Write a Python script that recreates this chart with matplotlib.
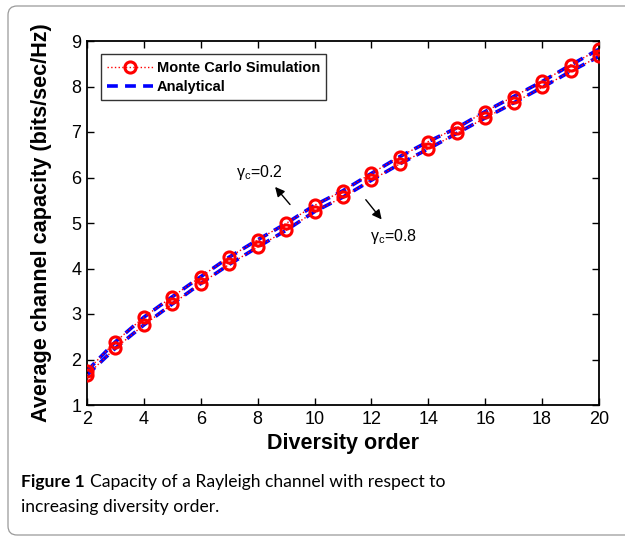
import matplotlib
matplotlib.use("Agg")
import matplotlib.pyplot as plt
from matplotlib.patches import FancyBboxPatch

diversity = [2, 3, 4, 5, 6, 7, 8, 9, 10, 11, 12, 13, 14, 15, 16, 17, 18, 19, 20]
cap_gc02 = [1.75, 2.39, 2.93, 3.38, 3.82, 4.25, 4.63, 4.99, 5.39, 5.71, 6.09, 6.46, 6.79, 7.09, 7.45, 7.78, 8.11, 8.47, 8.82]
cap_gc08 = [1.66, 2.25, 2.76, 3.22, 3.67, 4.09, 4.47, 4.84, 5.25, 5.57, 5.94, 6.30, 6.63, 6.97, 7.31, 7.64, 7.98, 8.33, 8.66]

xticks = [2, 4, 6, 8, 10, 12, 14, 16, 18, 20]
yticks = [1, 2, 3, 4, 5, 6, 7, 8, 9]

plt.rcParams['font.family'] = ['Liberation Sans', 'DejaVu Sans']
plt.rcParams['mathtext.fontset'] = 'custom'
plt.rcParams['mathtext.rm'] = 'Liberation Sans'
plt.rcParams['mathtext.it'] = 'Liberation Sans'

fig = plt.figure(figsize=(6.25, 5.36), dpi=100)
ax = fig.add_axes([87/625, 1-405/536, (599-87)/625, (405-41)/536])

# frame around figure + caption
frame = FancyBboxPatch((0.08, 0.01), 6.6, 5.29, boxstyle="round,pad=0,rounding_size=0.09",
                       transform=fig.dpi_scale_trans, fill=False, edgecolor='#9a9a9a',
                       linewidth=0.9, zorder=-5)
fig.patches.append(frame)

for i, ys in enumerate([cap_gc02, cap_gc08]):
    ax.plot(diversity, ys, linestyle=':', color='red', linewidth=1.0,
            marker='o', markersize=8, markerfacecolor='none', markeredgecolor='red',
            markeredgewidth=2.2, label='Monte Carlo Simulation' if i == 0 else None, zorder=3)
    ax.plot(diversity, ys, linestyle=(0, (3, 2)), color='blue', linewidth=2.6,
            label='Analytical' if i == 0 else None, zorder=2)

ax.set_xlim(2, 20)
ax.set_ylim(1, 9)
ax.set_xticks(xticks)
ax.set_yticks(yticks)
ax.tick_params(direction='in', length=5, width=1, labelsize=13, top=True, right=True, pad=4)
for s in ax.spines.values():
    s.set_linewidth(1.3)

ax.set_xlabel('Diversity order', fontsize=15.5, fontweight='bold', labelpad=4)
ax.set_ylabel('Average channel capacity (bits/sec/Hz)', fontsize=15.6, fontweight='bold', labelpad=14)

leg = ax.legend(loc='upper left', bbox_to_anchor=(0.027, 0.964), borderaxespad=0,
                prop={'weight': 'bold', 'size': 10.5}, frameon=True, fancybox=False,
                edgecolor='black', borderpad=0.45, handlelength=3.1, labelspacing=0.35,
                handletextpad=0.27)
leg.get_frame().set_linewidth(1.0)

ax.annotate('', xy=(8.55, 5.84), xytext=(9.2, 5.36),
            arrowprops=dict(arrowstyle='-|>', color='black', lw=1.0, mutation_scale=14))
ax.text(7.25, 6.12, r'$\mathrm{\gamma_c}$=0.2', fontsize=11.5, va='center', ha='left')
ax.annotate('', xy=(12.42, 5.03), xytext=(11.74, 5.56),
            arrowprops=dict(arrowstyle='-|>', color='black', lw=1.0, mutation_scale=14))
ax.text(11.95, 4.71, r'$\mathrm{\gamma_c}$=0.8', fontsize=11.5, va='center', ha='left')

cap_size = 12.6
fig.text(21/625, 1-482/536, 'Figure 1', fontsize=cap_size, fontweight='bold',
         va='center', ha='left', family='Lato')
fig.text(90/625, 1-482/536, 'Capacity of a Rayleigh channel with respect to',
         fontsize=cap_size, va='center', ha='left', family='Lato')
fig.text(21/625, 1-507/536, 'increasing diversity order.',
         fontsize=cap_size, va='center', ha='left', family='Lato')

fig.savefig('out.png', dpi=100)
